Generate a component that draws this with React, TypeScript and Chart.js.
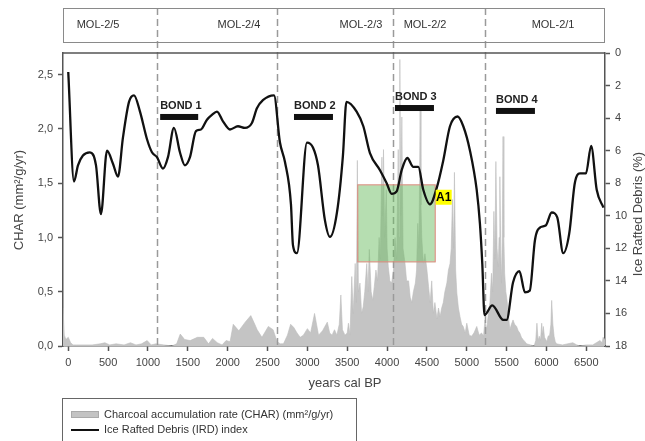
import React, { useEffect, useRef } from "react";
import { Chart, registerables } from "chart.js";

Chart.register(...registerables);

// ---------- data ----------
const charYears = [
  -66, -50, -30, 0, 30, 60, 100, 200, 300, 400, 460, 520, 600, 700, 780, 850, 920, 990, 1040, 1100,
  1200, 1300, 1360, 1405, 1460, 1530, 1620, 1700, 1760, 1810, 1870, 1930, 1980, 2030, 2070, 2140,
  2220, 2290, 2340, 2370, 2430, 2510, 2570, 2620, 2660, 2700, 2750, 2790, 2830, 2870, 2910, 2950,
  3000, 3040, 3090, 3140, 3190, 3250, 3280, 3310, 3340, 3370, 3400, 3420, 3440, 3472, 3500, 3515,
  3535, 3557, 3575, 3600, 3615, 3627, 3640, 3660, 3680, 3700, 3720, 3745, 3760, 3777, 3800, 3820,
  3840, 3860, 3880, 3900, 3915, 3935, 3945, 3955, 3970, 3990, 4000, 4015, 4035, 4057, 4080, 4100,
  4120, 4140, 4150, 4160, 4172, 4185, 4200, 4225, 4245, 4270, 4290, 4310, 4330, 4355, 4370, 4385,
  4400, 4415, 4425, 4435, 4455, 4475, 4500, 4520, 4540, 4560, 4580, 4600, 4625, 4645, 4665, 4685,
  4705, 4725, 4750, 4770, 4790, 4805, 4820, 4835, 4845, 4860, 4875, 4895, 4915, 4935, 4955, 4980,
  5000, 5030, 5060, 5090, 5125, 5155, 5185, 5210, 5228, 5250, 5270, 5290, 5310, 5325, 5340, 5352,
  5365, 5380, 5395, 5405, 5415, 5425, 5435, 5445, 5455, 5465, 5475, 5490, 5505, 5520, 5540, 5560,
  5580, 5600, 5625, 5645, 5665, 5685, 5705, 5730, 5750, 5800, 5845, 5865, 5880, 5895, 5910, 5925,
  5940, 5950, 5960, 5975, 5990, 6005, 6020, 6040, 6055, 6065, 6080, 6095, 6110, 6125, 6200, 6330,
  6380, 6420, 6500, 6580, 6625, 6670, 6700, 6710, 6734,
];
const charValues = [
  0.35, 0.1, 0.06, 0.08, 0.03, 0.01, 0.01, 0.01, 0.01, 0.02, 0.03, 0.01, 0.02, 0.01, 0.03, 0.01, 0.02, 0.05, 0.01, 0.02,
  0.01, 0.0, 0.02, 0.11, 0.06, 0.05, 0.08, 0.08, 0.02, 0.07, 0.03, 0.01, 0.05, 0.04, 0.2, 0.14,
  0.22, 0.28, 0.2, 0.15, 0.08, 0.18, 0.15, 0.04, 0.02, 0.02, 0.1, 0.2, 0.17, 0.12, 0.08, 0.1,
  0.16, 0.12, 0.3, 0.1, 0.14, 0.22, 0.12, 0.1, 0.15, 0.1, 0.2, 0.47, 0.15, 0.1, 0.12, 0.21,
  0.1, 0.64, 0.3, 0.76, 0.4, 1.71, 0.5, 0.58, 0.3, 0.36, 0.5, 0.76, 0.5, 0.89, 0.5, 0.42,
  0.55, 0.7, 0.6, 1.0, 0.8, 1.74, 1.2, 1.81, 1.0, 1.44, 0.9, 0.73, 0.6, 0.58, 0.7, 1.0,
  0.8, 1.81, 1.0, 2.64, 1.2, 2.11, 0.9, 0.76, 0.6, 0.6, 0.45, 0.4, 0.5, 0.58, 0.7, 1.13,
  0.9, 2.18, 1.3, 1.0, 0.76, 0.85, 0.7, 0.55, 0.4, 0.6, 0.3, 0.4, 0.25, 0.35, 0.27, 0.35,
  0.4, 0.5, 0.58, 0.7, 0.76, 0.9, 1.35, 0.9, 1.6, 0.7, 0.49, 0.35, 0.27, 0.2, 0.18, 0.12,
  0.21, 0.1, 0.09, 0.12, 0.18, 0.1, 0.12, 0.09, 0.24, 0.15, 0.3, 0.4, 0.67, 0.5, 1.24, 0.8,
  1.7, 0.9, 0.73, 1.0, 1.56, 0.9, 0.58, 1.0, 1.93, 1.0, 0.67, 0.5, 0.42, 0.3, 0.15, 0.2,
  0.24, 0.2, 0.18, 0.14, 0.12, 0.08, 0.06, 0.04, 0.02, 0.01, 0.0, 0.05, 0.21, 0.05, 0.09, 0.05,
  0.21, 0.1, 0.18, 0.08, 0.06, 0.04, 0.09, 0.1, 0.2, 0.42, 0.2, 0.09, 0.04, 0.02, 0.01, 0.03,
  0.01, 0.0, 0.01, 0.01, 0.03, 0.05, 0.03, 0.08, 0.06,
];

const irdYears = [
  0, 72, 122, 184, 272, 348, 410, 486, 561, 624, 686, 762, 825, 900, 988, 1050, 1113, 1188, 1251,
  1326, 1401, 1464, 1527, 1602, 1665, 1740, 1803, 1866, 1941, 2029, 2129, 2217, 2304, 2367, 2442,
  2581, 2656, 2719, 2794, 2819, 2869, 2995, 3070, 3133, 3221, 3283, 3371, 3446, 3490, 3618, 3702,
  3785, 3911, 3995, 4057, 4120, 4183, 4254, 4329, 4392, 4454, 4538, 4622, 4705, 4789, 4885, 4956,
  5040, 5124, 5165, 5195, 5222, 5320, 5458, 5500, 5580, 5660, 5730, 5790, 5855, 5925, 5990, 6065,
  6135, 6210, 6285, 6355, 6420, 6495, 6560, 6630, 6715,
];
const irdValues = [
  1.17, 7.9, 6.9, 6.3, 6.1, 6.9, 9.9, 6.0, 6.8, 7.6, 5.2, 3.0, 2.6, 3.6, 5.3, 6.1, 6.4, 7.1, 6.4,
  4.6, 6.1, 6.9, 6.4, 4.8, 4.7, 4.1, 3.8, 3.6, 4.2, 4.7, 4.5, 4.6, 4.3, 3.4, 2.9,
  2.6, 5.5, 6.7, 9.3, 11.8, 12.3, 5.5, 5.8, 6.9, 10.3, 11.3, 9.8, 6.3, 3.0, 3.6, 4.5,
  6.15, 7.2, 8.0, 8.65, 8.5, 7.2, 6.45, 7.0, 7.0, 8.4, 9.3, 8.3, 6.6, 4.5, 3.9, 4.5,
  6.0, 8.4, 10.5, 13.0, 16.1, 15.5, 16.4, 16.4, 14.1, 13.4, 14.7, 14.6, 11.5, 10.7, 10.6, 9.8,
  10.1, 12.3, 11.1, 8.0, 7.4, 7.4, 5.7, 8.4, 9.5,
];

const xTickValues = [0, 500, 1000, 1500, 2000, 2500, 3000, 3500, 4000, 4500, 5000, 5500, 6000, 6500];
const charTickValues = [0, 0.5, 1, 1.5, 2, 2.5];
const irdTickValues = [0, 2, 4, 6, 8, 10, 12, 14, 16, 18];

const zoneBoundaries = [1109, 2625, 4078, 5228];
const zoneNames = ["MOL-2/5", "MOL-2/4", "MOL-2/3", "MOL-2/2", "MOL-2/1"];
const zoneLabelYears = [374, 2142, 3673, 4476, 6082];

const bondNames = ["BOND 1", "BOND 2", "BOND 3", "BOND 4"];
const bondStarts = [1153, 2832, 4099, 5366];
const bondEnds = [1630, 3321, 4588, 5855];
const bondLevels = [3.93, 3.93, 3.38, 3.56];

const a1Years = [3626, 4610];
const a1Ird = [8.07, 12.86];
const a1LabelIrd = 8.4;

const FONT = "'Liberation Sans', Arial, sans-serif";

const overlayPlugin = {
  id: "overlay",
  beforeDatasetDraw(chart: any, args: any) {
    if (args.index !== 1) return;
    const { ctx, chartArea } = chart;
    const xs = chart.scales.x;
    const y1 = chart.scales.y1;
    ctx.save();
    // zone boundaries (dashed)
    ctx.strokeStyle = "#9a9a9a";
    ctx.lineWidth = 1.5;
    ctx.setLineDash([7, 4]);
    zoneBoundaries.forEach((b) => {
      const px = Math.round(xs.getPixelForValue(b)) + 0.5;
      ctx.beginPath();
      ctx.moveTo(px, 8);
      ctx.lineTo(px, chartArea.bottom);
      ctx.stroke();
    });
    ctx.setLineDash([]);
    // A1 rectangle
    const gx0 = xs.getPixelForValue(a1Years[0]);
    const gx1 = xs.getPixelForValue(a1Years[1]);
    const gy0 = y1.getPixelForValue(a1Ird[0]);
    const gy1 = y1.getPixelForValue(a1Ird[1]);
    ctx.fillStyle = "rgba(110,190,100,0.5)";
    ctx.fillRect(gx0, gy0, gx1 - gx0, gy1 - gy0);
    ctx.strokeStyle = "rgba(240,130,130,0.9)";
    ctx.lineWidth = 1;
    ctx.strokeRect(gx0 + 0.5, gy0 + 0.5, gx1 - gx0 - 1, gy1 - gy0 - 1);
    ctx.restore();
  },
  afterDatasetsDraw(chart: any) {
    const { ctx, chartArea } = chart;
    const xs = chart.scales.x;
    const y1 = chart.scales.y1;
    ctx.save();
    // top frame line
    ctx.strokeStyle = "#555";
    ctx.lineWidth = 1.5;
    ctx.beginPath();
    ctx.moveTo(chartArea.left, chartArea.top);
    ctx.lineTo(chartArea.right, chartArea.top);
    ctx.stroke();

    // zone box
    ctx.strokeStyle = "#8a8a8a";
    ctx.lineWidth = 1;
    ctx.strokeRect(63.5, 8.5, 541, 34);
    ctx.fillStyle = "#333";
    ctx.font = `11px ${FONT}`;
    ctx.textAlign = "center";
    ctx.textBaseline = "middle";
    zoneNames.forEach((n, i) => {
      ctx.fillText(n, xs.getPixelForValue(zoneLabelYears[i]), 25);
    });

    // Bond bars
    bondNames.forEach((n, i) => {
      const bx0 = xs.getPixelForValue(bondStarts[i]);
      const bx1 = xs.getPixelForValue(bondEnds[i]);
      const by = y1.getPixelForValue(bondLevels[i]);
      ctx.fillStyle = "#111";
      ctx.fillRect(bx0, by - 3, bx1 - bx0, 6);
      ctx.fillStyle = "#222";
      ctx.font = `bold 11px ${FONT}`;
      ctx.textAlign = "left";
      ctx.textBaseline = "middle";
      ctx.fillText(n, bx0, by - 11);
    });

    // A1 label
    const ax = xs.getPixelForValue(a1Years[1]);
    const ay = y1.getPixelForValue(a1LabelIrd);
    ctx.fillStyle = "#ffff00";
    ctx.fillRect(ax, ay, 16, 15);
    ctx.fillStyle = "#000";
    ctx.font = `bold 12px ${FONT}`;
    ctx.textAlign = "center";
    ctx.textBaseline = "middle";
    ctx.fillText("A1", ax + 8, ay + 8);

    // axis titles
    ctx.fillStyle = "#444";
    ctx.font = `13px ${FONT}`;
    ctx.textAlign = "center";
    ctx.textBaseline = "middle";
    ctx.fillText("years cal BP", 345, 383);
    ctx.save();
    ctx.translate(19, 200);
    ctx.rotate(-Math.PI / 2);
    ctx.fillText("CHAR (mm\u00B2/g/yr)", 0, 0);
    ctx.restore();
    ctx.save();
    ctx.translate(638, 214);
    ctx.rotate(-Math.PI / 2);
    ctx.font = `13px ${FONT}`;
    ctx.fillText("Ice Rafted Debris (%)", 0, 0);
    ctx.restore();

    // legend
    ctx.strokeStyle = "#666";
    ctx.lineWidth = 1;
    ctx.strokeRect(62.5, 398.5, 294, 60);
    ctx.fillStyle = "rgb(195,195,195)";
    ctx.fillRect(71, 411, 28, 7);
    ctx.strokeStyle = "#aaa";
    ctx.strokeRect(71.5, 411.5, 27, 6);
    ctx.strokeStyle = "#111";
    ctx.lineWidth = 2;
    ctx.beginPath();
    ctx.moveTo(71, 430);
    ctx.lineTo(99, 430);
    ctx.stroke();
    ctx.fillStyle = "#333";
    ctx.font = `11px ${FONT}`;
    ctx.textAlign = "left";
    ctx.textBaseline = "middle";
    ctx.fillText(chart.data.datasets[0].label, 104, 415);
    ctx.fillText(chart.data.datasets[1].label, 104, 430);
    ctx.restore();
  },
};

export default function App() {
  const ref = useRef<HTMLCanvasElement | null>(null);
  useEffect(() => {
    if (!ref.current) return;
    Chart.defaults.font.family = FONT;
    const chart = new Chart(ref.current, {
      type: "line",
      data: {
        datasets: [
          {
            label: "Charcoal accumulation rate (CHAR) (mm\u00B2/g/yr)",
            data: charYears.map((x, i) => ({ x, y: charValues[i] })),
            yAxisID: "y",
            fill: "origin",
            backgroundColor: "rgb(196,196,196)",
            borderColor: "rgb(188,188,188)",
            borderWidth: 0.6,
            pointRadius: 0,
            tension: 0,
            order: 2,
          },
          {
            label: "Ice Rafted Debris (IRD) index",
            data: irdYears.map((x, i) => ({ x, y: irdValues[i] })),
            yAxisID: "y1",
            fill: false,
            borderColor: "#111",
            borderWidth: 2.3,
            pointRadius: 0,
            cubicInterpolationMode: "monotone",
            order: 1,
          },
        ],
      },
      options: {
        animation: false,
        responsive: false,
        devicePixelRatio: 1,
        layout: { padding: { top: 53, left: 0, right: 0, bottom: 0 } },
        plugins: { legend: { display: false }, tooltip: { enabled: false } },
        scales: {
          x: {
            type: "linear",
            min: -66,
            max: 6734,
            afterBuildTicks: (s: any) => {
              s.ticks = xTickValues.map((v) => ({ value: v }));
            },
            afterFit: (s: any) => {
              s.height = 95;
            },
            ticks: {
              color: "#444",
              font: { size: 11 },
              padding: 5,
              maxRotation: 0,
              autoSkip: false,
              callback: (v: any) => String(v),
            },
            grid: { drawOnChartArea: false, drawTicks: true, tickLength: 5, tickColor: "#555", tickWidth: 1.5 },
            border: { display: true, color: "#555", width: 1.5 },
          },
          y: {
            position: "left",
            min: 0,
            max: 2.7,
            afterBuildTicks: (s: any) => {
              s.ticks = charTickValues.map((v) => ({ value: v }));
            },
            afterFit: (s: any) => {
              s.width = 63;
            },
            ticks: {
              color: "#444",
              font: { size: 11 },
              padding: 5,
              callback: (v: any) => Number(v).toFixed(1).replace(".", ","),
            },
            grid: { drawOnChartArea: false, drawTicks: true, tickLength: 5, tickColor: "#555", tickWidth: 1.5 },
            border: { display: true, color: "#555", width: 1.5 },
          },
          y1: {
            position: "right",
            reverse: true,
            min: 0,
            max: 18,
            afterBuildTicks: (s: any) => {
              s.ticks = irdTickValues.map((v) => ({ value: v }));
            },
            afterFit: (s: any) => {
              s.width = 40;
            },
            ticks: { color: "#444", font: { size: 11 }, padding: 5, callback: (v: any) => String(v) },
            grid: { drawOnChartArea: false, drawTicks: true, tickLength: 5, tickColor: "#555", tickWidth: 1.5 },
            border: { display: true, color: "#555", width: 1.5 },
          },
        },
      },
      plugins: [overlayPlugin],
    } as any);
    return () => chart.destroy();
  }, []);
  return (
    <div style={{ position: "fixed", left: 0, top: 0, width: 645, height: 441, background: "#fff" }}>
      <canvas ref={ref} width={645} height={441} style={{ width: 645, height: 441 }} />
    </div>
  );
}
